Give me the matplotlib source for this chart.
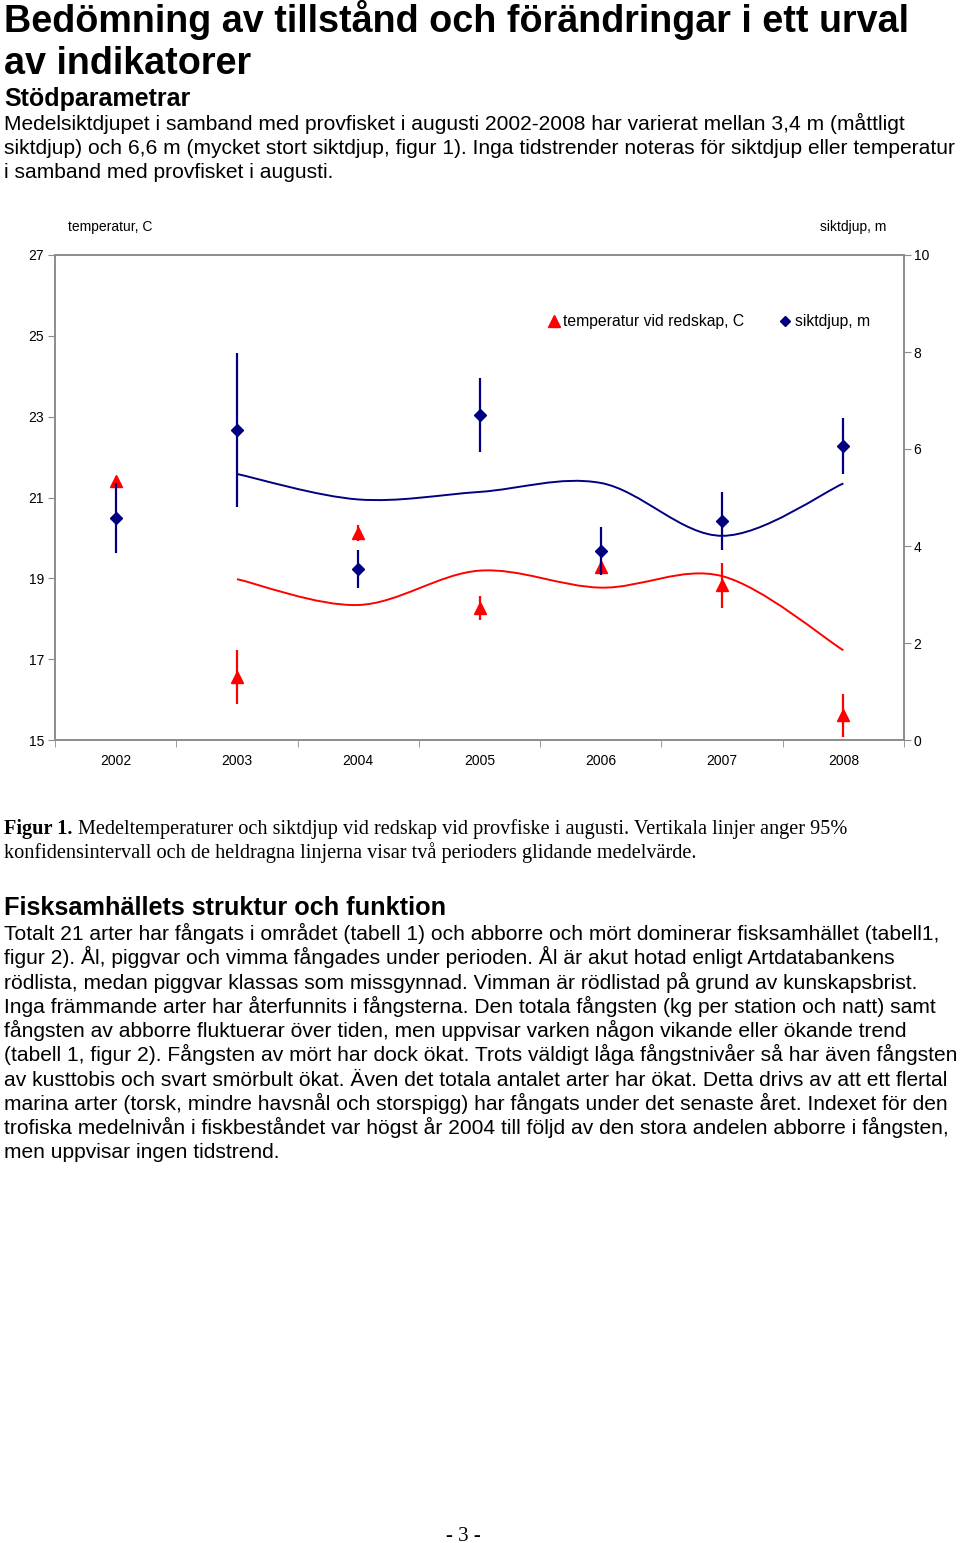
import numpy as np
import pandas as pd
import matplotlib
matplotlib.use('Agg')
import matplotlib.pyplot as plt
from matplotlib.path import Path
from matplotlib.patches import PathPatch
from matplotlib.lines import Line2D

plt.rcParams['font.family'] = ['Liberation Sans', 'DejaVu Sans']

years = ['2002', '2003', '2004', '2005', '2006', '2007', '2008']
temp = [21.40, 16.56, 20.12, 18.26, 19.28, 18.83, 15.61]
temp_ci = [0.10, 0.66, 0.19, 0.30, 0.15, 0.56, 0.53]
sikt = [4.58, 6.39, 3.53, 6.70, 3.90, 4.52, 6.06]
sikt_ci = [0.72, 1.58, 0.39, 0.77, 0.49, 0.60, 0.58]

title_lines = ['Bedömning av tillstånd och förändringar i ett urval', 'av indikatorer']
intro_lines = [
    'Medelsiktdjupet i samband med provfisket i augusti 2002-2008 har varierat mellan 3,4 m (måttligt',
    'siktdjup) och 6,6 m (mycket stort siktdjup, figur 1). Inga tidstrender noteras för siktdjup eller temperatur',
    'i samband med provfisket i augusti.',
]
caption_lines = [
    'Medeltemperaturer och siktdjup vid redskap vid provfiske i augusti. Vertikala linjer anger 95%',
    'konfidensintervall och de heldragna linjerna visar två perioders glidande medelvärde.',
]
body_lines = [
    'Totalt 21 arter har fångats i området (tabell 1) och abborre och mört dominerar fisksamhället (tabell1,',
    'figur 2). Ål, piggvar och vimma fångades under perioden. Ål är akut hotad enligt Artdatabankens',
    'rödlista, medan piggvar klassas som missgynnad. Vimman är rödlistad på grund av kunskapsbrist.',
    'Inga främmande arter har återfunnits i fångsterna. Den totala fångsten (kg per station och natt) samt',
    'fångsten av abborre fluktuerar över tiden, men uppvisar varken någon vikande eller ökande trend',
    '(tabell 1, figur 2). Fångsten av mört har dock ökat. Trots väldigt låga fångstnivåer så har även fångsten',
    'av kusttobis och svart smörbult ökat. Även det totala antalet arter har ökat. Detta drivs av att ett flertal',
    'marina arter (torsk, mindre havsnål och storspigg) har fångats under det senaste året. Indexet för den',
    'trofiska medelnivån i fiskbeståndet var högst år 2004 till följd av den stora andelen abborre i fångsten,',
    'men uppvisar ingen tidstrend.',
]

RED = '#ff0000'
NAVY = '#000080'
GRAY = '#8c8c8c'
H = 1543.0


def smooth_path(x, y):
    # excel-like smoothed line, bezier segments through the points
    pts = np.column_stack([x, y]).astype(float)
    n = len(pts)
    verts = [pts[0]]
    codes = [Path.MOVETO]
    for i in range(n - 1):
        p0 = pts[max(i - 1, 0)]
        p1 = pts[i]
        p2 = pts[i + 1]
        p3 = pts[min(i + 2, n - 1)]
        verts += [p1 + (p2 - p0) / 6.0, p2 - (p3 - p1) / 6.0, p2]
        codes += [Path.CURVE4] * 3
    return Path(verts, codes)


def ty(py):
    return 1 - py / H


fig = plt.figure(figsize=(9.6, 15.43), dpi=100)

# page text
for i, line in enumerate(title_lines):
    fig.text(4 / 960, ty(31.5 + 42.5 * i), line, fontsize=27.2, fontweight='bold', va='baseline')
fig.text(4 / 960, ty(106), 'Stödparametrar', fontsize=18, fontweight='bold', va='baseline')
for i, line in enumerate(intro_lines):
    fig.text(4 / 960, ty(130 + 24.2 * i), line, fontsize=15.1, va='baseline')

fig.text(4 / 960, ty(915), 'Fisksamhällets struktur och funktion', fontsize=18.2, fontweight='bold', va='baseline')
for i, line in enumerate(body_lines):
    fig.text(4 / 960, ty(940 + 24.25 * i), line, fontsize=15.1, va='baseline')

serif = ['Liberation Serif', 'DejaVu Serif']
fig.text(4 / 960, ty(834), 'Figur 1.', fontsize=14.6, fontweight='bold', family=serif, va='baseline')
fig.text(78 / 960, ty(834), caption_lines[0], fontsize=14.6, family=serif, va='baseline')
fig.text(4 / 960, ty(858), caption_lines[1], fontsize=14.6, family=serif, va='baseline')
fig.text(463 / 960, ty(1541), '- 3 -', fontsize=15, family=serif, va='baseline', ha='center')

# chart
ax = fig.add_axes([55 / 960, 1 - 740 / H, 849 / 960, 485 / H])
ax2 = ax.twinx()
x = np.arange(len(years))

ax.errorbar(x, temp, yerr=temp_ci, fmt='none', ecolor=RED, elinewidth=1.6, capsize=0)
ax.plot(x, temp, linestyle='none', marker='^', markersize=9, color=RED)
t_ma = pd.Series(temp).rolling(2).mean().dropna()
ax.add_patch(PathPatch(smooth_path(t_ma.index, t_ma.values), facecolor='none', edgecolor=RED, lw=1.4))

ax2.errorbar(x, sikt, yerr=sikt_ci, fmt='none', ecolor=NAVY, elinewidth=1.6, capsize=0)
ax2.plot(x, sikt, linestyle='none', marker='D', markersize=6.5, color=NAVY)
s_ma = pd.Series(sikt).rolling(2).mean().dropna()
ax2.add_patch(PathPatch(smooth_path(s_ma.index, s_ma.values), facecolor='none', edgecolor=NAVY, lw=1.4))

ax.set_xlim(-0.5, len(years) - 0.5)
ax.set_ylim(15, 27)
ax.set_yticks(np.arange(15, 28, 2))
ax2.set_ylim(0, 10)
ax2.set_yticks(np.arange(0, 11, 2))
ax.set_xticks(x)
ax.set_xticklabels(years)
ax.set_xticks(np.arange(-0.5, len(years)), minor=True)
ax.tick_params(axis='x', which='major', length=0, pad=10, labelsize=10)
ax.tick_params(axis='x', which='minor', length=5, color=GRAY, direction='out')
ax.tick_params(axis='y', length=5, color=GRAY, labelsize=10, pad=3)
ax2.tick_params(axis='y', length=5, color=GRAY, labelsize=10, pad=2)
for a in (ax, ax2):
    for s in a.spines.values():
        s.set_color(GRAY)
        s.set_linewidth(1.2)

fig.text(68 / 960, ty(227), 'temperatur, C', fontsize=10, va='center')
fig.text(886 / 960, ty(227), 'siktdjup, m', fontsize=10, va='center', ha='right')

handles = [
    Line2D([], [], linestyle='none', marker='^', markersize=8, color=RED),
    Line2D([], [], linestyle='none', marker='D', markersize=5.5, color=NAVY),
]
ax2.legend(handles, ['temperatur vid redskap, C', 'siktdjup, m'], loc='center',
           bbox_to_anchor=(0.771, 0.862), ncol=2, frameon=False, fontsize=11.3,
           handlelength=0.6, handletextpad=0.3, columnspacing=2.3)

fig.savefig('out.png', dpi=100)
